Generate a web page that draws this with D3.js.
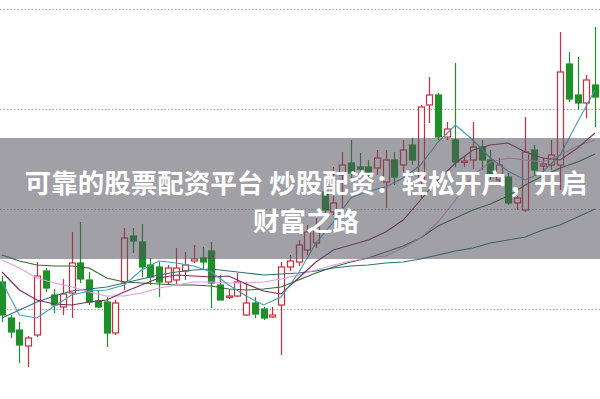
<!DOCTYPE html>
<html>
<head>
<meta charset="utf-8">
<script src="https://cdn.jsdelivr.net/npm/d3@7/dist/d3.min.js"></script>
<style>
  body { margin: 0; background: #fff; }
</style>
</head>
<body>
<div id="chart"></div>
<script>
// daily candles
var openP  = [8.28,7.92,7.80,7.64,7.75,8.39,8.15,8.03,8.17,8.47,8.30,8.09,8.08,7.77,8.28,8.74,8.68,8.45,8.43,8.28,
              8.30,8.39,8.49,8.52,8.59,8.25,8.13,8.14,7.95,8.07,8.01,7.93,8.05,8.43,8.48,8.60,8.67,9.18,8.98,9.35,
              9.47,9.43,9.43,9.42,9.28,9.50,9.45,9.65,9.30,10.05,10.15,9.73,9.70,9.48,9.50,9.63,9.50,9.30,9.33,9.07,
              9.00,9.60,9.44,9.45,9.45,10.46,10.15,10.07,10.25];
var closeP = [7.95,7.78,7.65,7.72,8.34,8.22,8.05,8.16,8.47,8.31,8.08,8.03,7.77,8.07,8.72,8.69,8.43,8.33,8.28,8.42,
              8.42,8.45,8.51,8.48,8.27,8.10,8.14,8.28,8.07,7.96,7.92,7.95,8.43,8.49,8.65,8.78,8.83,9.00,9.07,9.45,
              9.37,9.41,9.35,9.52,9.50,9.33,9.60,9.50,10.03,10.15,9.73,9.81,9.48,9.49,9.63,9.50,9.35,9.45,9.07,9.12,
              9.58,9.40,9.46,9.55,10.38,10.11,10.07,10.30,10.13];
var highP  = [8.34,7.95,7.88,7.74,8.48,8.42,8.21,8.31,8.78,8.88,8.38,8.20,8.13,8.10,8.82,8.82,8.86,8.52,8.48,8.45,
              8.62,8.58,8.65,8.63,8.68,8.35,8.21,8.37,8.28,8.13,8.03,8.03,8.48,8.55,8.70,8.85,8.92,9.25,9.43,9.58,
              9.70,9.57,9.50,9.60,9.60,9.58,9.70,9.72,10.05,10.33,10.17,9.88,10.47,9.54,9.88,9.70,9.60,9.52,9.37,9.14,
              9.93,9.65,9.52,9.70,10.78,10.58,10.53,10.35,10.83];
var lowP   = [7.88,7.72,7.47,7.43,7.73,8.18,7.97,7.95,7.92,8.27,8.05,8.02,7.63,7.75,8.20,8.57,8.33,8.25,8.13,8.25,
              8.26,8.30,8.47,8.40,8.02,8.10,8.11,8.13,7.94,7.92,7.90,7.92,7.55,8.39,8.44,8.55,8.62,8.90,8.95,9.02,
              9.32,9.37,9.30,9.35,9.02,9.25,9.38,9.45,9.12,9.87,9.70,9.70,9.43,9.43,9.41,9.40,9.30,9.25,9.05,9.00,
              8.98,9.35,9.38,9.40,9.20,10.08,10.00,9.92,9.83];

// moving averages, read every second day
var ma5  = [8.28,7.95,7.92,8.04,8.15,8.19,8.20,8.25,8.40,8.49,8.47,8.44,8.38,8.25,8.14,8.05,8.13,8.37,
            8.67,8.88,9.12,9.19,9.23,9.32,9.45,9.68,9.85,9.70,9.52,9.39,9.30,9.38,9.55,9.88,10.20];
var ma10 = [8.38,8.20,8.10,8.06,8.05,8.08,8.10,8.18,8.25,8.32,8.35,8.34,8.33,8.34,8.26,8.19,8.16,8.32,
            8.48,8.60,8.65,8.70,8.78,8.90,9.10,9.30,9.47,9.60,9.65,9.67,9.58,9.52,9.50,9.62,9.77];
var ma20 = [8.50,8.42,8.32,8.27,8.23,8.18,8.14,8.14,8.17,8.22,8.25,8.28,8.28,8.27,8.27,8.28,8.31,8.35,
            8.40,8.45,8.49,8.52,8.54,8.62,8.72,8.88,9.10,9.35,9.48,9.52,9.50,9.48,9.55,9.64,9.70];
var ma30 = [8.55,8.49,8.45,8.44,8.44,8.42,8.32,8.28,8.27,8.26,8.25,8.25,8.24,8.21,8.20,8.21,8.23,8.30,
            8.37,8.43,8.48,8.52,8.58,8.64,8.72,8.84,8.92,9.00,9.06,9.14,9.25,9.34,9.42,9.48,9.56];
var ma60 = [7.92,8.00,8.08,8.14,8.19,8.21,8.23,8.27,8.31,8.35,8.38,8.40,8.41,8.39,8.37,8.35,8.36,8.37,
            8.39,8.42,8.44,8.45,8.47,8.48,8.51,8.55,8.59,8.62,8.67,8.70,8.73,8.80,8.85,8.93,9.01];

var gridLevels = [8, 9, 10, 11];
var bannerText = ["可靠的股票配资平台 炒股配资：轻松开户，开启", "财富之路"];

var width = 600, height = 399;

var svg = d3.select("#chart").append("svg")
    .attr("width", width)
    .attr("height", height)
    .style("display", "block");

var n = openP.length;
var x = d3.scaleLinear().domain([0, n - 1]).range([2, 595]);
var y = d3.scaleLinear().domain([7.11, 11.1]).range([height, 0]);

var candles = openP.map(function(o, i) {
    return {i: i, open: o, close: closeP[i], high: highP[i], low: lowP[i]};
});

var red = "#d42a3c", green = "#1f8f2a";

// dotted grid
svg.append("g").selectAll("line")
    .data(gridLevels)
    .enter().append("line")
    .attr("x1", 0).attr("x2", width)
    .attr("y1", function(d) { return Math.round(y(d)) - 0.5; })
    .attr("y2", function(d) { return Math.round(y(d)) - 0.5; })
    .attr("stroke", "#a8a8a8")
    .attr("stroke-width", 1)
    .attr("stroke-dasharray", "1.5,2");

// wicks
svg.append("g").selectAll("line")
    .data(candles)
    .enter().append("line")
    .attr("x1", function(d) { return Math.round(x(d.i)) + 0.5; })
    .attr("x2", function(d) { return Math.round(x(d.i)) + 0.5; })
    .attr("y1", function(d) { return y(d.high); })
    .attr("y2", function(d) { return y(d.low); })
    .attr("stroke", function(d) { return d.close >= d.open ? red : green; })
    .attr("stroke-width", 1.2);

// bodies
svg.append("g").selectAll("rect")
    .data(candles)
    .enter().append("rect")
    .attr("x", function(d) { return Math.round(x(d.i)) - 2.5; })
    .attr("width", 6)
    .attr("y", function(d) { return y(Math.max(d.open, d.close)); })
    .attr("height", function(d) { return Math.max(1.5, Math.abs(y(d.open) - y(d.close))); })
    .attr("fill", function(d) { return d.close >= d.open ? "#fff" : green; })
    .attr("stroke", function(d) { return d.close >= d.open ? red : green; })
    .attr("stroke-width", 1.2);

// moving average lines
var maSeries = [
    {values: ma60, color: "#2f6e78"},
    {values: ma30, color: "#2f6a36"},
    {values: ma20, color: "#e39ae4"},
    {values: ma10, color: "#7a2d5c"},
    {values: ma5,  color: "#3fa3ac"}
];

var line = d3.line()
    .x(function(d, k) { return x(k * 2); })
    .y(function(d) { return y(d); });

svg.append("g").selectAll("path")
    .data(maSeries)
    .enter().append("path")
    .attr("d", function(d) { return line(d.values); })
    .attr("fill", "none")
    .attr("stroke", function(d) { return d.color; })
    .attr("stroke-width", 1.1);

// grey banner with the title
svg.append("rect")
    .attr("x", 0).attr("y", 138)
    .attr("width", width).attr("height", 121)
    .attr("fill", "rgba(82,82,92,0.55)");

svg.append("g").selectAll("text")
    .data(bannerText)
    .enter().append("text")
    .attr("x", 306)
    .attr("y", function(d, k) { return 181 + k * 38; })
    .attr("text-anchor", "middle")
    .attr("dominant-baseline", "central")
    .attr("fill", "#fff")
    .attr("font-family", "'Noto Sans CJK SC', 'Noto Sans', sans-serif")
    .attr("font-weight", "bold")
    .attr("font-size", "26.5px")
    .text(function(d) { return d; });
</script>
</body>
</html>
